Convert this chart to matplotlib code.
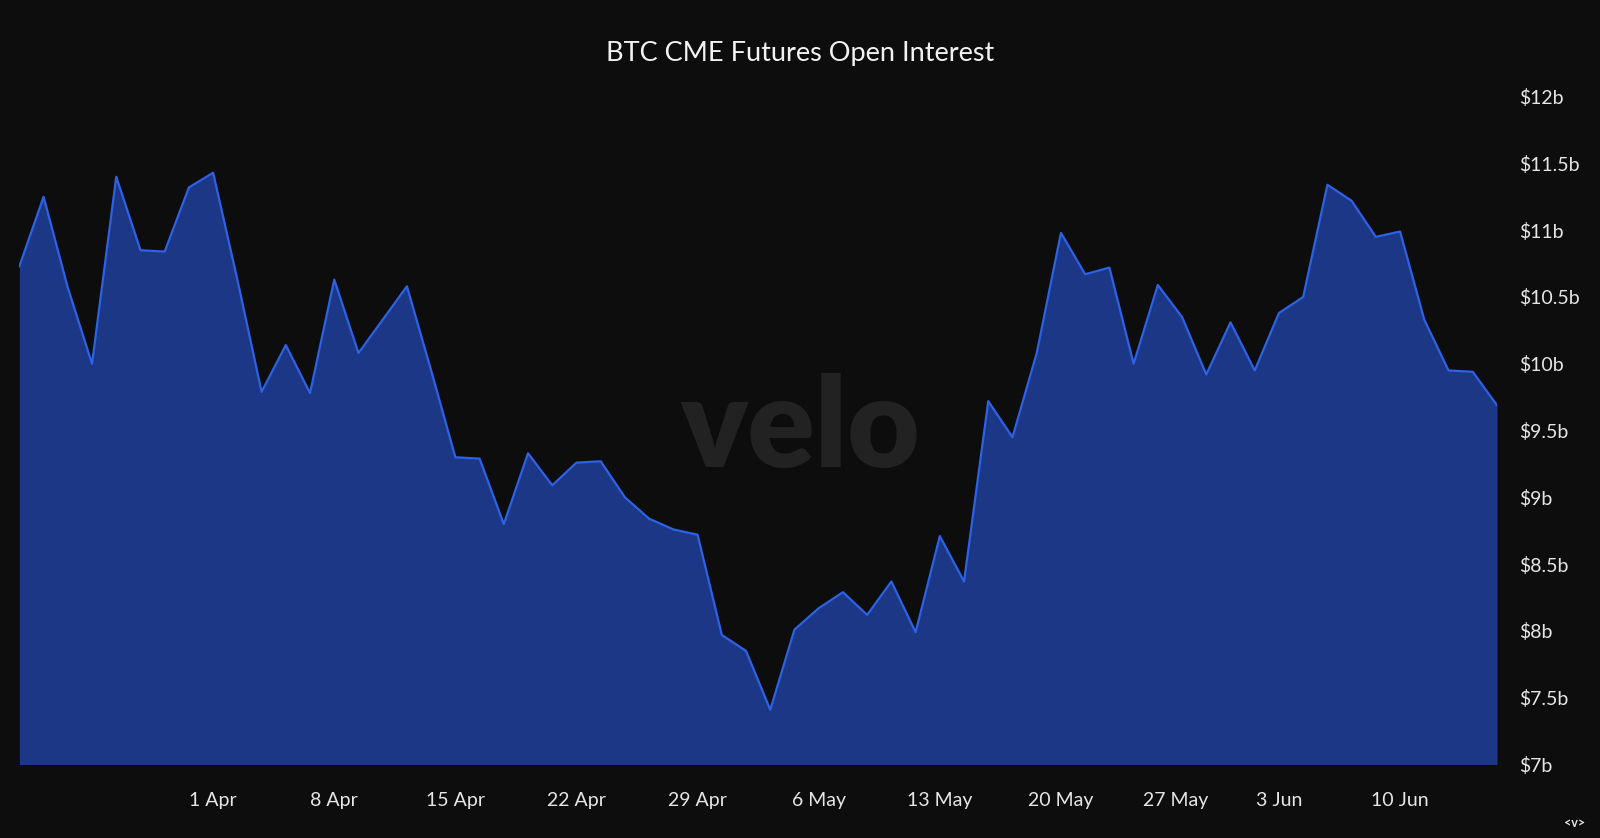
import numpy as np
import pandas as pd
import matplotlib
matplotlib.use("Agg")
import matplotlib.pyplot as plt

plt.rcParams['font.family'] = ['Lato', 'DejaVu Sans']

# CME trading days (Good Friday and Memorial Day closed)
days = pd.bdate_range('2024-03-19', '2024-06-14', freq='C',
                      holidays=['2024-03-29', '2024-05-27'])

# open interest, billions USD
oi = [10.73, 11.25, 10.57, 10.00, 11.40, 10.85, 10.84, 11.32, 11.43, 10.63,
      9.79, 10.14, 9.78, 10.63, 10.08, 10.33, 10.58, 9.95, 9.30, 9.29,
      8.80, 9.33, 9.09, 9.26, 9.27, 9.00, 8.84, 8.76, 8.72, 7.97,
      7.85, 7.41, 8.01, 8.17, 8.29, 8.12, 8.37, 7.99, 8.71, 8.37,
      9.72, 9.45, 10.08, 10.98, 10.67, 10.72, 10.00, 10.59, 10.35, 9.92,
      10.31, 9.95, 10.38, 10.50, 11.34, 11.22, 10.95, 10.99, 10.33, 9.95,
      9.94, 9.69]

tick_dates = ['2024-04-01', '2024-04-08', '2024-04-15', '2024-04-22', '2024-04-29',
              '2024-05-06', '2024-05-13', '2024-05-20', '2024-05-27', '2024-06-03',
              '2024-06-10']
tick_labels = ['1 Apr', '8 Apr', '15 Apr', '22 Apr', '29 Apr', '6 May', '13 May',
               '20 May', '27 May', '3 Jun', '10 Jun']
y_ticks = [7, 7.5, 8, 8.5, 9, 9.5, 10, 10.5, 11, 11.5, 12]

bg = '#0d0d0d'
x = np.arange(len(oi))
# map calendar dates onto the trading-day index
day_num = days.values.astype('datetime64[D]').astype(float)
tick_num = np.array(tick_dates, dtype='datetime64[D]').astype(float)
tick_pos = np.interp(tick_num, day_num, x)

fig = plt.figure(figsize=(16, 8.38), dpi=100, facecolor=bg)
ax = fig.add_axes([0.0121, 0.0877, 0.9235, 0.797])
ax.set_facecolor(bg)

ax.fill_between(x, 7, oi, color='#1b3785', lw=0, zorder=2)
ax.plot(x, oi, color='#2d62e6', lw=1.6, zorder=3)

ax.set_xlim(0, len(oi) - 1)
ax.set_ylim(7, 12)
ax.yaxis.tick_right()
ax.set_yticks(y_ticks)
ax.set_yticklabels([f'${v:g}b' for v in y_ticks])
ax.set_xticks(tick_pos)
ax.set_xticklabels(tick_labels)
ax.tick_params(axis='y', length=0, pad=16, labelsize=14, colors='#e6e6e6')
ax.tick_params(axis='x', length=0, pad=20, labelsize=14, colors='#e6e6e6')
for s in ax.spines.values():
    s.set_visible(False)

fig.text(0.5, 1 - 53 / 838, 'BTC CME Futures Open Interest', ha='center', va='center',
         fontsize=19.5, color='#f2f2f2')
fig.text(0.5, 1 - 467 / 838, 'velo', ha='center', va='baseline', fontsize=90,
         fontweight='heavy', color='#222222', zorder=1)
fig.text(0.984, 0.018, '<v>', ha='center', va='center', fontsize=9,
         fontweight='bold', color='#e6e6e6')

fig.savefig('out.png', dpi=100, facecolor=bg)
